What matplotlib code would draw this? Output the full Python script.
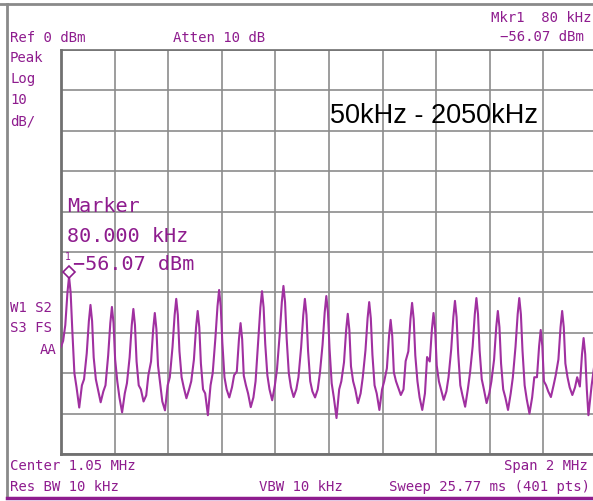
"""
Spectrum analyzer screen: 50kHz - 2050kHz sweep with 80 kHz harmonics.
"""
import matplotlib
matplotlib.use("Agg")
import matplotlib.pyplot as plt
from matplotlib.lines import Line2D
from matplotlib.ticker import MultipleLocator

# trace (kHz, dBm), one row per 80 kHz period
trace_khz = [50, 58, 66, 74,
    80, 86, 92, 100, 108, 118, 128, 136, 146, 154,
    160, 166, 172, 180, 188, 198, 208, 216, 226, 234,
    240, 246, 252, 260, 268, 278, 288, 296, 306, 314,
    320, 326, 332, 340, 348, 358, 368, 376, 386, 394,
    400, 406, 412, 420, 428, 438, 448, 456, 466, 474,
    480, 486, 492, 500, 508, 518, 528, 536, 546, 554,
    560, 566, 572, 580, 588, 598, 608, 616, 626, 634,
    640, 646, 652, 660, 668, 678, 688, 696, 706, 714,
    720, 726, 732, 740, 748, 758, 768, 776, 786, 794,
    800, 806, 812, 820, 828, 838, 848, 856, 866, 874,
    880, 886, 892, 900, 908, 918, 928, 936, 946, 954,
    960, 966, 972, 980, 988, 998, 1008, 1016, 1026, 1034,
    1040, 1046, 1052, 1060, 1068, 1078, 1088, 1096, 1106, 1114,
    1120, 1126, 1132, 1140, 1148, 1158, 1168, 1176, 1186, 1194,
    1200, 1206, 1212, 1220, 1228, 1238, 1248, 1256, 1266, 1274,
    1280, 1286, 1292, 1300, 1308, 1318, 1328, 1336, 1346, 1354,
    1360, 1366, 1372, 1380, 1388, 1398, 1408, 1416, 1426, 1434,
    1440, 1446, 1452, 1460, 1468, 1478, 1488, 1496, 1506, 1514,
    1520, 1526, 1532, 1540, 1548, 1558, 1568, 1576, 1586, 1594,
    1600, 1606, 1612, 1620, 1628, 1638, 1648, 1656, 1666, 1674,
    1680, 1686, 1692, 1700, 1708, 1718, 1728, 1736, 1746, 1754,
    1760, 1766, 1772, 1780, 1788, 1798, 1808, 1816, 1826, 1834,
    1840, 1846, 1852, 1860, 1868, 1878, 1888, 1896, 1906, 1914,
    1920, 1926, 1932, 1940, 1948, 1958, 1968, 1976, 1986, 1994,
    2000, 2006, 2012, 2018, 2030, 2040, 2050]

trace_dbm = [-73.5, -72.0, -68.1, -60.1,
    -56.07, -60.1, -69.1, -80.0, -83.5, -88.5, -83.0, -81.5, -75.1, -67.1,
    -63.1, -67.1, -76.1, -81.5, -84.0, -87.2, -84.5, -83.0, -75.6, -67.6,
    -63.6, -67.6, -76.6, -82.0, -86.0, -89.7, -85.0, -82.5, -76.1, -68.1,
    -64.1, -68.1, -77.1, -83.0, -84.0, -87.0, -85.5, -80.5, -77.1, -69.1,
    -65.1, -69.1, -78.1, -82.5, -87.0, -89.2, -83.0, -81.0, -73.6, -65.6,
    -61.6, -65.6, -74.6, -81.0, -83.5, -86.2, -84.0, -82.0, -76.6, -68.6,
    -64.6, -68.6, -77.6, -84.0, -85.0, -90.4, -83.0, -80.0, -71.4, -63.4,
    -59.4, -63.4, -72.4, -81.0, -84.0, -86.0, -83.5, -80.5, -79.6, -71.6,
    -67.6, -71.6, -80.6, -83.0, -85.0, -88.4, -86.0, -82.0, -71.7, -63.7,
    -59.7, -63.7, -72.7, -80.5, -84.0, -86.7, -83.0, -79.0, -70.4, -62.4,
    -58.4, -62.4, -71.4, -80.0, -83.5, -85.9, -84.0, -81.0, -73.6, -65.6,
    -61.6, -65.6, -74.6, -82.0, -84.5, -86.0, -84.0, -80.0, -72.9, -64.9,
    -60.9, -64.9, -73.9, -82.5, -86.0, -91.1, -84.0, -82.0, -77.3, -69.3,
    -65.3, -69.3, -78.3, -82.0, -84.0, -87.4, -85.0, -81.0, -74.4, -66.4,
    -62.4, -66.4, -75.4, -83.0, -85.0, -89.1, -84.0, -82.0, -78.8, -70.8,
    -66.8, -70.8, -79.8, -82.0, -83.5, -85.4, -84.0, -77.0, -74.6, -66.6,
    -62.6, -66.6, -75.6, -82.0, -86.0, -89.1, -85.0, -76.0, -77.1, -69.1,
    -65.1, -69.1, -78.1, -82.0, -84.0, -86.6, -84.5, -81.0, -74.1, -66.1,
    -62.1, -66.1, -75.1, -83.0, -85.5, -88.3, -84.0, -80.0, -73.4, -65.4,
    -61.4, -65.4, -74.4, -81.5, -84.0, -87.4, -85.0, -82.0, -76.6, -68.6,
    -64.6, -68.6, -77.6, -84.0, -86.0, -89.1, -85.0, -81.0, -73.4, -65.4,
    -61.4, -65.4, -74.4, -83.0, -86.5, -90.0, -86.0, -81.0, -81.0, -73.3,
    -69.3, -73.3, -82.0, -83.0, -84.5, -85.9, -83.0, -80.5, -76.6, -68.6,
    -64.6, -68.6, -77.6, -81.0, -83.5, -85.4, -83.5, -81.0, -83.3, -75.3,
    -71.3, -75.3, -84.0, -90.4, -83.0, -78.0, -76.0]

marker_khz = 80
marker_dbm = -56.07

PURPLE = "#8e1c8e"
TRACE = "#a030a0"
GRID = "#8c8c8c"
MONO = "DejaVu Sans Mono"

W, H = 593, 501
fig = plt.figure(figsize=(W / 100, H / 100), dpi=100)

def fx(px):
    return px / W

def fy(py):
    return 1 - py / H

# graticule, right edge runs a little past the picture like the original crop
ax = fig.add_axes([fx(61), fy(454), (597 - 61) / W, (454 - 50) / H])
ax.set_xlim(50, 2050)
ax.set_ylim(-100, 0)
ax.xaxis.set_major_locator(MultipleLocator(200, offset=50))
ax.yaxis.set_major_locator(MultipleLocator(10))
ax.tick_params(length=0, labelbottom=False, labelleft=False)
ax.grid(color=GRID, lw=1.2)
for side, s in ax.spines.items():
    s.set_color("#707070")
    s.set_linewidth(2.0 if side in ("left", "bottom") else 1.2)

ax.plot(trace_khz, trace_dbm, color=TRACE, lw=1.5, zorder=3)
ax.plot([marker_khz], [marker_dbm + 1.2], marker="D", ms=6, mfc="white",
        mec=PURPLE, mew=1.2, zorder=4)
ax.annotate("1", (marker_khz, marker_dbm), xytext=(-1, 14), textcoords="offset points",
            ha="center", va="center", fontsize=7, family=MONO, color=PURPLE)

# outer screen frame
fig.add_artist(Line2D([fx(0), fx(W)], [fy(4), fy(4)], color="#8a8a8a", lw=2))
fig.add_artist(Line2D([fx(7), fx(7)], [fy(4), fy(498)], color="#8a8a8a", lw=2))
fig.add_artist(Line2D([fx(7), fx(W)], [fy(498), fy(498)], color=PURPLE, lw=2.5))

def label(x, y, s, size=10.1, ha="left", color=PURPLE, family=MONO):
    fig.text(fx(x), fy(y), s, fontsize=size, ha=ha, va="center",
             color=color, family=family)

label(10, 38.5, "Ref 0 dBm")
label(173, 38.5, "Atten 10 dB")
label(491, 17.5, "Mkr1  80 kHz")
label(500, 37, "\u221256.07 dBm")
label(10, 58.5, "Peak")
label(10, 79, "Log")
label(10, 100.5, "10")
label(10, 121.5, "dB/")
label(10, 308.5, "W1 S2")
label(10, 328.5, "S3 FS")
label(57, 350, "AA", ha="right")
label(10, 466, "Center 1.05 MHz")
label(504, 466, "Span 2 MHz")
label(10, 487, "Res BW 10 kHz")
label(259, 487, "VBW 10 kHz")
label(389, 487, "Sweep 25.77 ms (401 pts)")

label(67, 207, "Marker", size=14.5)
label(67, 236, "80.000 kHz", size=14.5)
label(73, 265, "\u221256.07 dBm", size=14.5)

label(330, 116, "50kHz - 2050kHz", size=19.5, color="black", family="Liberation Sans")

fig.savefig("out.png", dpi=100)
